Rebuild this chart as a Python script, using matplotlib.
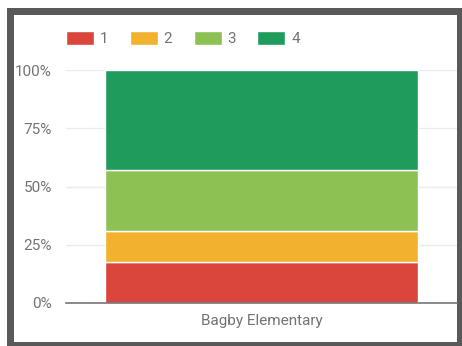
"""Stacked 100% bar of score levels for one school."""

import matplotlib

matplotlib.use("Agg")
import matplotlib.pyplot as plt
from matplotlib.patches import Rectangle
from matplotlib.ticker import PercentFormatter

schools = ["Bagby Elementary"]
levels = ["1", "2", "3", "4"]
shares = [0.174, 0.135, 0.261, 0.430]
colors = ["#DA453C", "#F2B22D", "#8EC153", "#1F9C5B"]
y_ticks = [0, 0.25, 0.5, 0.75, 1.0]

W, H = 462, 346
plt.rcParams["font.family"] = ["Roboto", "DejaVu Sans"]

fig = plt.figure(figsize=(W / 100, H / 100), dpi=100)
fig.patch.set_facecolor("white")

# dark frame round the chart card
fig.patches.append(Rectangle((7 / W, 0), 1, 1 - 8 / H, transform=fig.transFigure,
                             facecolor="#595959", edgecolor="none", zorder=-3))
fig.patches.append(Rectangle((14 / W, 1 - 342 / H), (457 - 14) / W, (342 - 15) / H,
                             transform=fig.transFigure, facecolor="white",
                             edgecolor="none", zorder=-2))

ax = fig.add_axes([66 / W, 1 - 303 / H, (457 - 66) / W, (303 - 70) / H])
ax.set_facecolor("none")

bottom = 0.0
handles = []
for level, share, color in zip(levels, shares, colors):
    bars = ax.bar(schools, [share], bottom=bottom, width=0.8, color=color,
                  edgecolor="white", linewidth=1.0, label=level, zorder=3)
    handles.append(bars)
    bottom += share

ax.set_xlim(-0.5, 0.5)
ax.set_ylim(0, 1)
ax.set_yticks(y_ticks)
ax.yaxis.set_major_formatter(PercentFormatter(1.0, decimals=0))
ax.grid(axis="y", color="#EBEBEB", linewidth=1, zorder=0)
ax.set_axisbelow(True)
for side in ["top", "right", "left"]:
    ax.spines[side].set_visible(False)
ax.spines["bottom"].set_color("#757575")
ax.spines["bottom"].set_linewidth(1.2)
ax.spines["bottom"].set_zorder(4)
ax.tick_params(axis="both", length=0, labelsize=11, labelcolor="#737373")
ax.tick_params(axis="y", pad=10)
ax.tick_params(axis="x", pad=8)

ax.legend(handles=handles, labels=levels, ncol=4, loc="upper left",
          bbox_to_anchor=(66 / W, 1 - 31 / H), bbox_transform=fig.transFigure,
          frameon=False, fontsize=11, labelcolor="#737373", borderpad=0,
          borderaxespad=0, handlelength=1.83, handleheight=1.0,
          handletextpad=0.4, columnspacing=1.38)

fig.savefig("out.png", dpi=100)
